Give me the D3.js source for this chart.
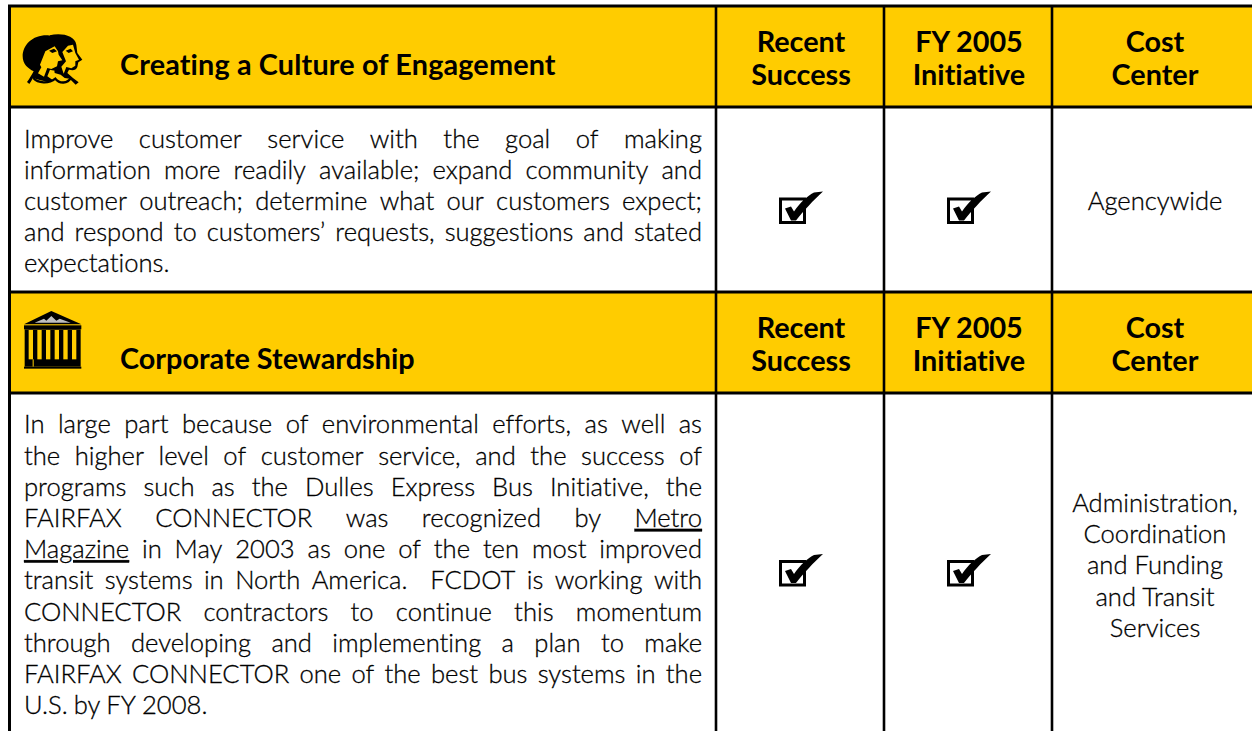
<!DOCTYPE html>
<html>
<head>
<meta charset="utf-8">
<script src="https://cdn.jsdelivr.net/npm/d3@7"></script>
<style>
  html, body { margin: 0; padding: 0; background: #fff; overflow: hidden; }
  text { font-family: Lato, "Open Sans", sans-serif; fill: #000; font-variant-ligatures: none; }
  .body { font-size: 25.6px; font-weight: 300; stroke: #000; stroke-width: 0.3px; }
  .head { font-size: 28.8px; font-weight: 700; }
</style>
</head>
<body>
<div id="chart"></div>
<script>
// table content
var columns = ["desc", "recent", "initiative", "cost"];
var headTitles = ["Creating a Culture of Engagement", "Corporate Stewardship"];
var headIcons = ["faces", "temple"];
var headColumns = [["Recent", "Success"], ["FY 2005", "Initiative"], ["Cost", "Center"]];
var recentChecked = [true, true];
var initiativeChecked = [true, true];
var costCenters = [
  ["Agencywide"],
  ["Administration,", "Coordination", "and Funding", "and Transit", "Services"]
];
var descLines = [
  [
    "Improve customer service with the goal of making",
    "information more readily available; expand community and",
    "customer outreach; determine what our customers expect;",
    "and respond to customers’ requests, suggestions and stated",
    "expectations."
  ],
  [
    "In large part because of environmental efforts, as well as",
    "the higher level of customer service, and the success of",
    "programs such as the Dulles Express Bus Initiative, the",
    "FAIRFAX CONNECTOR was recognized by Metro",
    "Magazine in May 2003 as one of the ten most improved",
    "transit systems in North America.  FCDOT is working with",
    "CONNECTOR contractors to continue this momentum",
    "through developing and implementing a plan to make",
    "FAIRFAX CONNECTOR one of the best bus systems in the",
    "U.S. by FY 2008."
  ]
];
var underlined = ["Metro", "Magazine"];

var svgWidth = 1252;
var svgHeight = 731;
var yellow = "#ffcc00";

var svg = d3.select("#chart")
  .append("svg")
  .attr("width", svgWidth)
  .attr("height", svgHeight)
  .style("display", "block");

// column edges and centres
var xEdge = d3.scaleOrdinal().domain(columns).range([9.5, 716, 884, 1052]);
var xMid = d3.scaleOrdinal().domain(columns).range([363, 801, 969, 1155]);

// section tops
var sectionY = d3.scaleOrdinal().domain([0, 1]).range([6, 292]);
var headH = 101;
var textLeft = 24, textRight = 702;
var lineH = [31, 31.2];

// header fills
svg.selectAll("rect.headFill")
  .data(headTitles)
  .enter()
  .append("rect")
  .attr("class", "headFill")
  .attr("x", 9)
  .attr("y", (d, i) => sectionY(i))
  .attr("width", svgWidth - 9)
  .attr("height", headH)
  .attr("fill", yellow);

// horizontal rules
var rules = [sectionY(0), sectionY(0) + headH, sectionY(1), sectionY(1) + headH];
svg.selectAll("line.rule")
  .data(rules)
  .enter()
  .append("line")
  .attr("class", "rule")
  .attr("x1", 8)
  .attr("x2", svgWidth)
  .attr("y1", d => d)
  .attr("y2", d => d)
  .attr("stroke", "#000")
  .attr("stroke-width", 3);

// vertical rules run off the bottom of the page
svg.selectAll("line.vrule")
  .data(columns)
  .enter()
  .append("line")
  .attr("class", "vrule")
  .attr("x1", d => xEdge(d))
  .attr("x2", d => xEdge(d))
  .attr("y1", 5)
  .attr("y2", svgHeight)
  .attr("stroke", "#000")
  .attr("stroke-width", d => d == "desc" ? 3 : 2.6);

// section titles
svg.selectAll("text.title")
  .data(headTitles)
  .enter()
  .append("text")
  .attr("class", "head")
  .attr("x", 120)
  .attr("y", (d, i) => sectionY(i) + (i == 0 ? 69 : 77))
  .attr("letter-spacing", (d, i) => i == 0 ? 0.15 : 0)
  .text(d => d);

// column headings, repeated for each section
headTitles.forEach(function(title, s) {
  headColumns.forEach(function(lines, c) {
    lines.forEach(function(line, l) {
      svg.append("text")
        .attr("class", "head")
        .attr("text-anchor", "middle")
        .attr("x", xMid(columns[c + 1]))
        .attr("y", sectionY(s) + 46 + l * 33)
        .text(line);
    });
  });
});

// description text, justified by hand word by word
function drawLine(line, y, justify) {
  var words = line.split(" ");
  var nodes = words.map(w => svg.append("text")
    .attr("class", "body")
    .attr("y", y)
    .attr("text-decoration", underlined.includes(w) ? "underline" : null)
    .text(w));
  var widths = nodes.map(n => n.node().getComputedTextLength());
  var gap = justify
    ? (textRight - textLeft - d3.sum(widths)) / (words.length - 1)
    : 6;
  var x = textLeft;
  nodes.forEach(function(n, i) {
    n.attr("x", x);
    x += widths[i] + gap;
  });
}

var firstBaseline = [148, 433.3];
descLines.forEach(function(lines, s) {
  lines.forEach(function(line, i) {
    drawLine(line, firstBaseline[s] + i * lineH[s], i < lines.length - 1);
  });
});

// cost centre text
var costBaseline = [210, 512];
costCenters.forEach(function(lines, s) {
  lines.forEach(function(line, i) {
    svg.append("text")
      .attr("class", "body")
      .attr("text-anchor", "middle")
      .attr("x", xMid("cost"))
      .attr("y", costBaseline[s] + i * lineH[1])
      .text(line);
  });
});

// check boxes
var checkY = [210.5, 573];
function drawCheck(cx, cy) {
  var g = svg.append("g").attr("transform", `translate(${cx}, ${cy})`);
  g.append("rect")
    .attr("x", -20.5)
    .attr("y", -11.5)
    .attr("width", 24)
    .attr("height", 23.5)
    .attr("fill", "#fff")
    .attr("stroke", "#000")
    .attr("stroke-width", 3);
  g.append("path")
    .attr("d", "M-16,-2 L-10,-4 L-7,1 C-1,-8 7,-15 13,-18 L22,-19 C13,-11 2,1 -5,10 L-10,10 Z")
    .attr("fill", "#000");
}
recentChecked.forEach((d, i) => { if (d) drawCheck(xMid("recent"), checkY[i]); });
initiativeChecked.forEach((d, i) => { if (d) drawCheck(xMid("initiative"), checkY[i]); });

// icons, traced at 3x
function drawFaces(g) {
  // back head
  g.append("path")
    .attr("d", "M95,22 C130,14 170,22 175,50 L178,75 L193,95 L181,103 L178,117 C174,127 165,128 153,125 L148,135 L165,150 L182,163 L173,170 L155,152 L140,150 L128,140 L110,135 Z")
    .attr("fill", "#000");
  // back face
  g.append("path")
    .attr("d", "M133,72 L150,53 L165,50 L172,75 L183,95 L172,100 L172,113 L160,121 L145,117 L137,137 L130,116 L144,100 Z")
    .attr("fill", yellow);
  g.append("path").attr("d", "M143,68 L158,62 L165,70 L152,75 Z").attr("fill", "#000");
  // front head
  g.append("path")
    .attr("d", "M14,85 C14,50 45,20 90,22 C115,25 125,45 125,70 L137,95 L124,103 L122,118 C117,128 107,129 96,125 L88,145 L105,157 L90,162 L62,155 L45,150 C42,155 38,162 34,168 L27,162 C35,152 40,142 47,130 C30,122 14,108 14,85 Z")
    .attr("fill", "#000");
  // front face
  g.append("path")
    .attr("d", "M66,110 L82,70 L110,55 L120,70 L122,80 L133,97 L120,100 L117,115 L100,123 L88,120 L78,146 L60,136 L70,118 Z")
    .attr("fill", yellow);
  g.append("path").attr("d", "M93,68 L108,62 L117,70 L103,75 Z").attr("fill", "#000");
  // collar
  g.append("path")
    .attr("d", "M46,150 C60,166 92,168 112,152 C125,168 148,168 160,148")
    .attr("fill", "none")
    .attr("stroke", "#000")
    .attr("stroke-width", 7);
}

function drawTemple(g) {
  g.append("path").attr("d", "M18,55 L100,15 L190,55 Z").attr("fill", "#000");
  g.append("path")
    .attr("d", "M50,50 L78,38 L85,44 L100,30 L115,44 L125,38 L158,50 Z")
    .attr("fill", "#fff")
    .attr("opacity", 0.75);
  g.append("rect").attr("x", 18).attr("y", 58).attr("width", 172).attr("height", 12).attr("fill", "#000");
  g.append("rect").attr("x", 20).attr("y", 70).attr("width", 168).attr("height", 112).attr("fill", "#000");
  d3.range(6).forEach(function(i) {
    g.append("rect").attr("x", 32 + i * 26).attr("y", 72).attr("width", 13).attr("height", 88).attr("fill", yellow);
  });
  g.append("rect").attr("x", 44).attr("y", 160).attr("width", 3).attr("height", 24).attr("fill", yellow);
  g.append("rect").attr("x", 18).attr("y", 182).attr("width", 172).attr("height", 6).attr("fill", "#000");
}

headIcons.forEach(function(name, i) {
  var g = svg.append("g");
  if (name == "faces") {
    g.attr("transform", "translate(18, 28) scale(0.3333)");
    drawFaces(g);
  } else {
    g.attr("transform", "translate(18, 306) scale(0.3333)");
    drawTemple(g);
  }
});
</script>
</body>
</html>
